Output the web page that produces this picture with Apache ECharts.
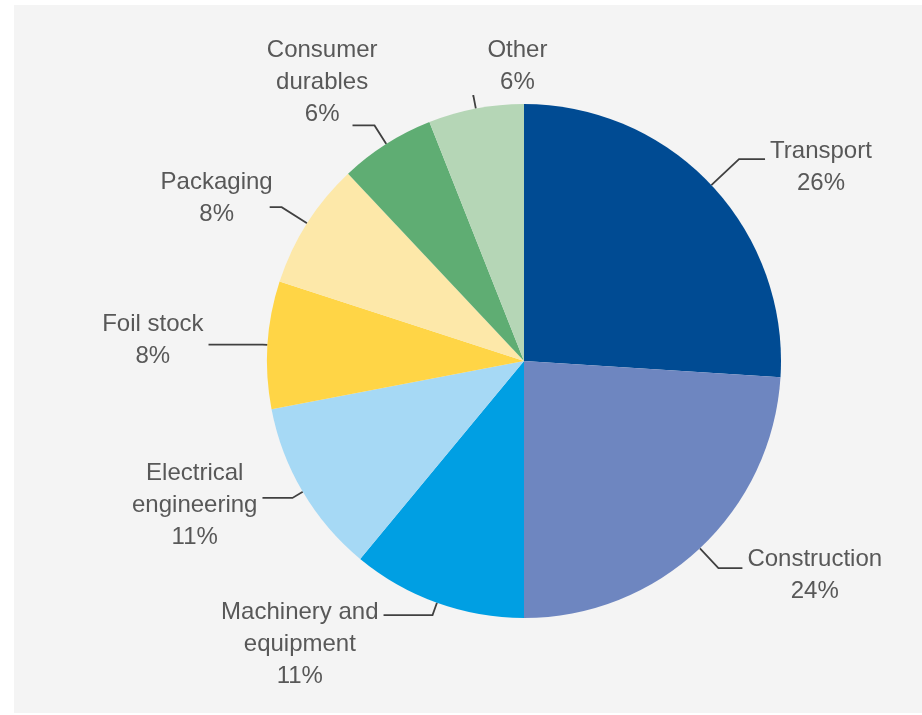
<!DOCTYPE html>
<html><head><meta charset="utf-8">
<script src="https://cdn.jsdelivr.net/npm/echarts@6/dist/echarts.min.js"></script>
<style>html,body{margin:0;padding:0;background:#fff}#c{width:922px;height:715px}</style>
</head><body><div id="c"></div>
<script>
// ---- data ----
const categories = ['Transport', 'Construction', 'Machinery and\nequipment', 'Electrical\nengineering', 'Foil stock', 'Packaging', 'Consumer\ndurables', 'Other'];
const values = [26, 24, 11, 11, 8, 8, 6, 6];

// ---- styles ----
const sliceColors = ['#004b93', '#6e86c0', '#009fe3', '#a6d9f5', '#ffd546', '#fde8a9', '#5fad73', '#b5d6b6'];
const lineLen1 = [38, 27, 13, 12, 5, 30, 22, 13];
const lineLen2 = [26, 24, 49, 30, 54, 12, 22, 1];
const labelPad = [[17,0,0,0], [14,0,0,0], [58,0,0,0], [14,0,0,0], [0,0,9,0], [0,0,18,0], [0,0,86,0], [0,0,58,0]];
const labelDx = [0, 0, 0, 0, 0, 8, 30, 80];

const chart = echarts.init(document.getElementById('c'), null, {renderer: 'canvas'});
chart.setOption({
  animation: false,
  backgroundColor: '#ffffff',
  graphic: [{type: 'rect', shape: {x: 14, y: 5, width: 908, height: 708}, style: {fill: '#f4f4f4'}, z: -10, silent: true}],
  series: [{
    type: 'pie',
    center: [524, 361],
    radius: 257,
    startAngle: 90,
    clockwise: true,
    avoidLabelOverlap: false,
    itemStyle: {borderWidth: 0},
    label: {
      show: true,
      position: 'outside',
      distanceToLabelLine: 5,
      formatter: function (p) {
        const lines = p.name.split('\n');
        lines.push(p.value + '%');
        return lines.map(l => '{c|' + l + '}').join('\n');
      },
      rich: {
        c: {align: 'center', fontSize: 24, lineHeight: 32, color: '#585858', fontFamily: 'Liberation Sans'}
      }
    },
    labelLine: {show: true, smooth: false, lineStyle: {color: '#404040', width: 1.8}},
    labelLayout: function (params) {
      return {dx: labelDx[params.dataIndex]};
    },
    data: categories.map((name, i) => ({
      name: name,
      value: values[i],
      itemStyle: {color: sliceColors[i]},
      label: {padding: labelPad[i]},
      labelLine: {length: lineLen1[i], length2: lineLen2[i]}
    }))
  }]
});
</script>
</body></html>
